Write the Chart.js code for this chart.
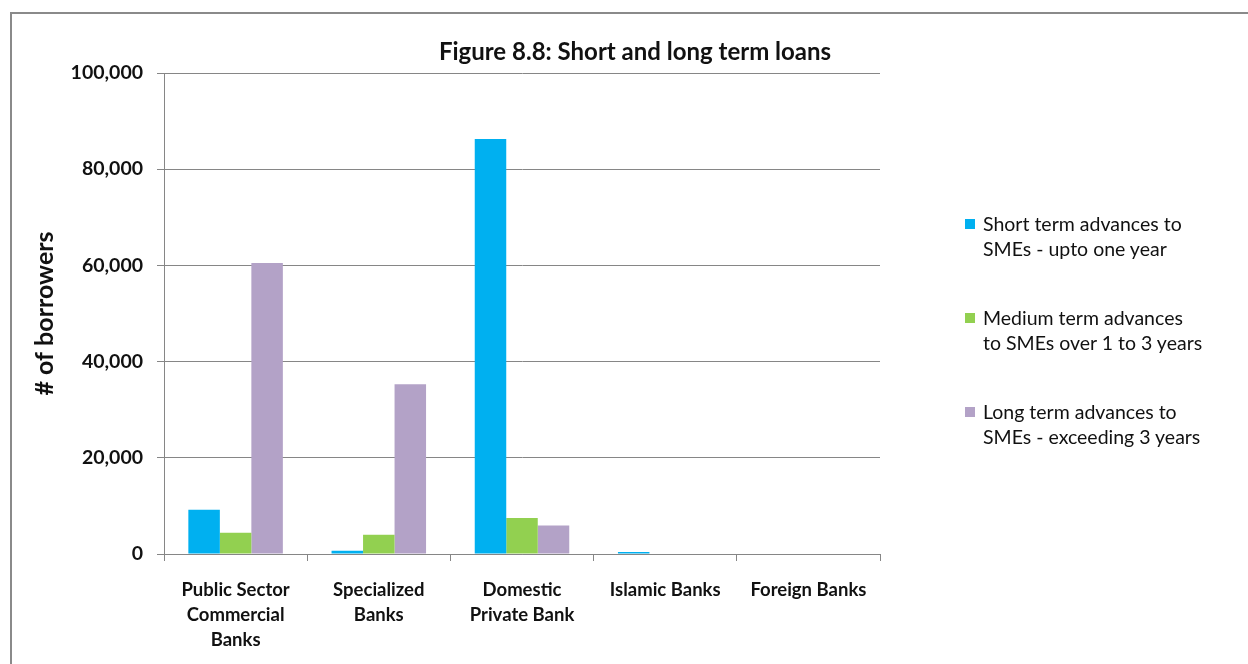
<!DOCTYPE html>
<html>
<head>
<meta charset="utf-8">
<script src="https://cdn.jsdelivr.net/npm/chart.js@4.4.1/dist/chart.umd.min.js"></script>
<style>
    html, body { margin: 0; padding: 0; background: #fff; overflow: hidden; }
    #wrap { position: relative; width: 1248px; height: 664px; }
    #frame {
        position: absolute; left: 10px; top: 12px; width: 1260px; height: 700px;
        border-left: 2px solid #8a8a8a; border-top: 2px solid #8a8a8a;
        pointer-events: none;
    }
    #legend {
        position: absolute; left: 965px; top: 211px;
        font-family: Lato, "Open Sans", sans-serif; font-size: 19.5px; color: #111;
        line-height: 25px;
    }
    .item { position: relative; padding-left: 18px; margin-bottom: 44px; }
    .swatch { position: absolute; left: 0; top: 8px; width: 10px; height: 10px; }
</style>
</head>
<body>
<div id="wrap">
    <canvas id="loansChart" width="1248" height="664"></canvas>
    <div id="frame"></div>
    <div id="legend"></div>
</div>
<script>
const banks = [
    ['Public Sector', 'Commercial', 'Banks'],
    ['Specialized', 'Banks'],
    ['Domestic', 'Private Bank'],
    'Islamic Banks',
    'Foreign Banks'
];
const shortTerm = [9200, 700, 86300, 400, 0];
const mediumTerm = [4400, 4000, 7500, 0, 0];
const longTerm = [60500, 35300, 5900, 0, 0];
const yTicks = [0, 20000, 40000, 60000, 80000, 100000];

const seriesNames = [
    ['Short term advances to', 'SMEs - upto one year'],
    ['Medium term advances', 'to SMEs over 1 to 3 years'],
    ['Long term advances to', 'SMEs - exceeding 3 years']
];
const seriesColors = ['#00b0f0', '#92d050', '#b3a2c7'];

const FONT = 'Lato, "Open Sans", sans-serif';

// chart heading, drawn over the plot
const headingPlugin = {
    id: 'heading',
    afterDraw(chart) {
        const ctx = chart.ctx;
        ctx.save();
        ctx.font = 'bold 24px ' + FONT;
        ctx.fillStyle = '#111';
        ctx.textAlign = 'center';
        ctx.textBaseline = 'middle';
        ctx.fillText('Figure 8.8: Short and long term loans', 635, 52);
        ctx.restore();
    }
};

const ctx = document.getElementById('loansChart').getContext('2d');
new Chart(ctx, {
    type: 'bar',
    data: {
        labels: banks,
        datasets: [shortTerm, mediumTerm, longTerm].map((d, i) => ({
            label: seriesNames[i].join(' '),
            data: d,
            backgroundColor: seriesColors[i],
            borderWidth: 0,
            categoryPercentage: 0.66,
            barPercentage: 1
        }))
    },
    options: {
        responsive: false,
        animation: false,
        layout: { padding: { left: 18, right: 368, top: 73, bottom: 0 } },
        plugins: {
            legend: { display: false },
            tooltip: { enabled: false }
        },
        scales: {
            x: {
                grid: {
                    offset: true,
                    drawOnChartArea: false,
                    tickLength: 7,
                    color: '#868686'
                },
                border: { color: '#868686', width: 1 },
                ticks: {
                    autoSkip: false,
                    maxRotation: 0,
                    color: '#111',
                    padding: 17,
                    font: { family: FONT, size: 18.5, weight: 'bold', lineHeight: 1.35 }
                },
                afterFit(scale) { scale.height = 110; }
            },
            y: {
                min: 0,
                max: 100000,
                afterBuildTicks(scale) { scale.ticks = yTicks.map(v => ({ value: v })); },
                grid: { color: '#868686', tickLength: 7 },
                border: { color: '#868686', width: 1 },
                ticks: {
                    color: '#111',
                    padding: 14,
                    font: { family: FONT, size: 19.5, weight: 'bold' },
                    callback: v => v.toLocaleString('en-US')
                },
                title: {
                    display: true,
                    text: '# of borrowers',
                    color: '#111',
                    padding: { top: 12, bottom: 0 },
                    font: { family: FONT, size: 25, weight: 'bold' }
                },
                afterFit(scale) { scale.width = 146; }
            }
        }
    },
    plugins: [headingPlugin]
});

// legend to the right of the plot, with wrapped names
const legend = document.getElementById('legend');
seriesNames.forEach((lines, i) => {
    const item = document.createElement('div');
    item.className = 'item';
    const sw = document.createElement('span');
    sw.className = 'swatch';
    sw.style.background = seriesColors[i];
    item.appendChild(sw);
    lines.forEach(t => {
        const row = document.createElement('div');
        row.textContent = t;
        item.appendChild(row);
    });
    legend.appendChild(item);
});
</script>
</body>
</html>
